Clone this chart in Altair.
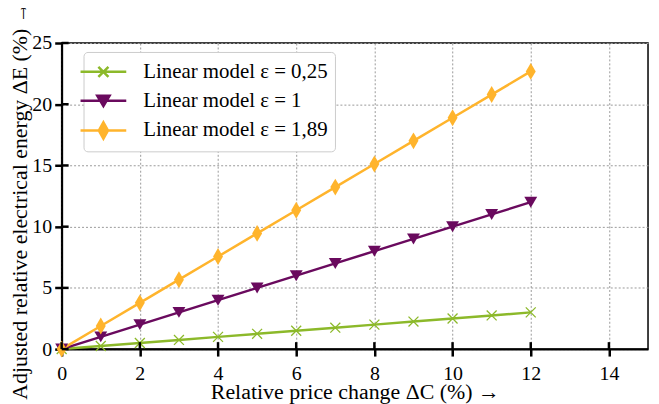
import altair as alt
import pandas as pd

# ---- data ----
price_change = [0, 1, 2, 3, 4, 5, 6, 7, 8, 9, 10, 11, 12]
eps_025 = [0, 0.25, 0.5, 0.75, 1.0, 1.25, 1.5, 1.75, 2.0, 2.25, 2.5, 2.75, 3.0]
eps_1 = [0, 1, 2, 3, 4, 5, 6, 7, 8, 9, 10, 11, 12]
eps_189 = [0, 1.89, 3.78, 5.67, 7.56, 9.45, 11.34, 13.23, 15.12, 17.01, 18.9, 20.79, 22.68]
series_names = ["Linear model ε = 0,25", "Linear model ε = 1", "Linear model ε = 1,89"]
series_colors = ["#8cb92a", "#6a0a5e", "#ffb42c"]
x_ticks = [0, 2, 4, 6, 8, 10, 12, 14]
y_ticks = [0, 5, 10, 15, 20, 25]

rows = []
for name, vals in zip(series_names, [eps_025, eps_1, eps_189]):
    for xv, yv in zip(price_change, vals):
        rows.append({"x": xv, "y": yv, "series": name})
df = pd.DataFrame(rows)

FONT = "'Liberation Serif', 'Times New Roman', Times, serif"
W, H = 590, 308

xs = alt.Scale(domain=[0, 15], nice=False, zero=False)
ys = alt.Scale(domain=[0, 25], nice=False, zero=False)
cscale = alt.Scale(domain=series_names, range=series_colors)
LEG = dict(title=None, orient="none", legendX=22, legendY=9)

x_enc = alt.X("x:Q", scale=xs,
              axis=alt.Axis(values=x_ticks, title="Relative price change ΔC (%)  →",
                            titleY=50, titleBaseline="alphabetic",
                            tickSize=7, labelPadding=8, labelFlush=False))
y_enc = alt.Y("y:Q", scale=ys,
              axis=alt.Axis(values=y_ticks, title="Adjusted relative electrical energy ΔE (%)  →",
                            titleX=-42, titleY=158, titleAngle=-90, titleAlign="center",
                            titleBaseline="middle", tickSize=7, labelPadding=3,
                            labelFlush=False))

base = alt.Chart(df)

lines = base.mark_line(strokeWidth=2.5).encode(
    x=x_enc, y=y_enc,
    color=alt.Color("series:N", scale=cscale, legend=alt.Legend(**LEG)),
)

marker_paths = [
    ("M-1,-1L1,1M-1,1L1,-1", 100, False),
    ("M-1,-0.85L1,-0.85L0,0.85Z", 169, True),
    ("M0,-1.7L1,0L0,1.7L-1,0Z", 100, True),
]
point_layers = []
for name, (path, size, filled) in zip(series_names, marker_paths):
    point_layers.append(
        base.transform_filter(alt.datum.series == name).mark_point(
            shape=path, size=size, filled=filled, opacity=1,
            strokeWidth=1.3 if not filled else 1,
        ).encode(
            x="x:Q", y="y:Q",
            color=alt.Color("series:N", scale=cscale, legend=alt.Legend(**LEG)),
        )
    )

legend_paths = [
    "M-2,0H2M-0.44,-0.44L0.44,0.44M-0.44,0.44L0.44,-0.44",
    "M-2,0H2M-0.54,-0.44L0.54,-0.44L0,0.48Z",
    "M-2,0H2M0,-0.72L0.4,0L0,0.72L-0.4,0Z",
]
legend_layer = base.mark_point(filled=False, opacity=0).encode(
    x="x:Q", y="y:Q",
    color=alt.Color("series:N", scale=cscale, legend=alt.Legend(**LEG)),
    fill=alt.Fill("series:N", scale=cscale, legend=alt.Legend(**LEG)),
    shape=alt.Shape("series:N", scale=alt.Scale(domain=series_names, range=legend_paths),
                    legend=alt.Legend(**LEG)),
)

inner_x_ticks = alt.Chart(pd.DataFrame({"t": x_ticks})).mark_rule(
    color="black", strokeWidth=2.5).encode(
    x=alt.X("t:Q", scale=xs), y=alt.value(H), y2=alt.value(H - 7))
inner_y_ticks = alt.Chart(pd.DataFrame({"t": y_ticks})).mark_rule(
    color="black", strokeWidth=2.5).encode(
    y=alt.Y("t:Q", scale=ys), x=alt.value(0), x2=alt.value(7))

chart = alt.layer(lines, *point_layers, legend_layer, inner_x_ticks, inner_y_ticks).properties(
    width=W, height=H,
    padding={"left": 54, "top": 34, "right": 3, "bottom": 54},
    autosize=alt.AutoSizeParams(type="none"),
).configure_view(
    stroke="black", strokeWidth=1.5,
).configure_axis(
    labelFont=FONT, titleFont=FONT, labelFontSize=20, titleFontSize=22,
    labelColor="black", titleColor="black", titleFontWeight="normal",
    domainColor="black", domainWidth=2, tickColor="black", tickWidth=2.5,
    grid=True, gridColor="#999999", gridDash=[2, 2], gridWidth=1,
).configure_legend(
    labelFont=FONT, labelFontSize=21, labelColor="black",
    symbolSize=529, symbolStrokeWidth=2.5, symbolOpacity=1,
    fillColor="white", strokeColor="#cccccc", cornerRadius=4, padding=7,
    rowPadding=5, labelOffset=27, labelLimit=400,
)

chart.save("out.html", embed_options={"renderer": "svg", "actions": False})
